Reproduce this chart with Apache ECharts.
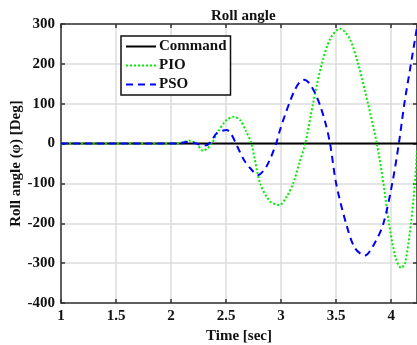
<!DOCTYPE html>
<html>
<head>
<meta charset="utf-8">
<script src="https://cdn.jsdelivr.net/npm/echarts@6/dist/echarts.min.js"></script>
<style>
    html, body {margin: 0; padding: 0; background: #fff;}
    #roll {width: 417px; height: 345px;}
</style>
</head>
<body>
<div id="roll"></div>
<script>
// command is flat at zero
var cmdTime = [1, 4.235];
var cmdRoll = [0, 0];

// PIO response
var pioTime = [1, 2.05, 2.1, 2.17, 2.23, 2.29, 2.33, 2.37, 2.42, 2.5, 2.57, 2.63, 2.68, 2.73, 2.81, 2.9, 2.985, 3.05, 3.11, 3.17, 3.22, 3.29, 3.37, 3.45, 3.536, 3.62, 3.70, 3.79, 3.87, 3.93, 3.98, 4.04, 4.09, 4.127, 4.18, 4.216, 4.235];
var pioRoll = [0, 0, 3, 7, 0, -18, -12, 0, 26, 58, 67, 58, 32, 0, -100, -145, -154, -133, -100, -45, 0, 100, 200, 265, 288, 265, 200, 100, 0, -100, -200, -285, -312, -300, -200, -100, -16];

// PSO response
var psoTime = [1, 2.08, 2.13, 2.2, 2.27, 2.32, 2.37, 2.415, 2.506, 2.55, 2.59, 2.66, 2.72, 2.79, 2.87, 2.955, 2.99, 3.036, 3.08, 3.12, 3.17, 3.21, 3.26, 3.31, 3.355, 3.4, 3.445, 3.5, 3.59, 3.67, 3.76, 3.85, 3.93, 4.01, 4.07, 4.12, 4.18, 4.235];
var psoRoll = [0, 0, 4, 2, -3, -4, 8, 26, 34, 22, 0, -40, -62, -79, -56, 0, 34, 72, 105, 132, 155, 160, 150, 126, 95, 55, 0, -100, -200, -262, -281, -250, -200, -100, 0, 100, 200, 292];

var xTicks = {min: 1, max: 4.235, interval: 0.5};
var yTicks = {min: -400, max: 300, interval: 100};

function pairs(xs, ys) {
    var out = [];
    for (var i = 0; i < xs.length; i++) {
        out.push([xs[i], ys[i]]);
    }
    return out;
}

var font = 'Liberation Serif';
var axisColor = '#333';

var myChart = echarts.init(document.getElementById('roll'));
var option = {
    animation: false,
    title: {
        text: 'Roll angle',
        left: 206,
        top: 4,
        textStyle: {fontFamily: font, fontWeight: 'bold', fontSize: 15, color: '#111'}
    },
    legend: {
        orient: 'vertical',
        left: 121,
        top: 36,
        padding: [3, 4, 3, 4],
        itemWidth: 30,
        itemHeight: 14,
        itemGap: 4,
        backgroundColor: '#fff',
        borderColor: '#111',
        borderWidth: 1.5,
        borderRadius: 0,
        itemStyle: {opacity: 0},
        textStyle: {fontFamily: font, fontWeight: 'bold', fontSize: 15, color: '#111', padding: [0, 0, 0, -2]},
        data: ['Command', 'PIO', 'PSO']
    },
    grid: {
        left: 61,
        top: 24,
        right: 0,
        bottom: 42,
        outerBoundsMode: 'none'
    },
    xAxis: [{
        type: 'value',
        min: xTicks.min,
        max: xTicks.max,
        interval: xTicks.interval,
        name: 'Time [sec]',
        nameLocation: 'middle',
        nameGap: 22,
        nameTextStyle: {fontFamily: font, fontWeight: 'bold', fontSize: 15, color: '#111'},
        axisLine: {onZero: false, lineStyle: {color: axisColor, width: 1.5}},
        axisTick: {inside: true, length: 4, lineStyle: {color: axisColor, width: 1.5}},
        axisLabel: {fontFamily: font, fontWeight: 'bold', fontSize: 15, color: '#111', margin: 6, showMaxLabel: false},
        splitLine: {lineStyle: {color: '#dcdcdc', width: 1.5}}
    }, {
        type: 'value',
        position: 'top',
        min: xTicks.min,
        max: xTicks.max,
        interval: xTicks.interval,
        axisLine: {onZero: false, lineStyle: {color: axisColor, width: 1.5}},
        axisTick: {inside: true, length: 4, lineStyle: {color: axisColor, width: 1.5}},
        axisLabel: {show: false},
        splitLine: {show: false}
    }],
    yAxis: [{
        type: 'value',
        min: yTicks.min,
        max: yTicks.max,
        interval: yTicks.interval,
        name: 'Roll angle (φ) [Deg]',
        nameLocation: 'middle',
        nameGap: 37,
        nameMoveOverlap: false,
        nameTextStyle: {fontFamily: font, fontWeight: 'bold', fontSize: 15, color: '#111'},
        axisLine: {show: true, onZero: false, lineStyle: {color: axisColor, width: 1.5}},
        axisTick: {show: true, inside: true, length: 4, lineStyle: {color: axisColor, width: 1.5}},
        axisLabel: {fontFamily: font, fontWeight: 'bold', fontSize: 15, color: '#111', margin: 6},
        splitLine: {lineStyle: {color: '#dcdcdc', width: 1.5}}
    }, {
        type: 'value',
        position: 'right',
        min: yTicks.min,
        max: yTicks.max,
        interval: yTicks.interval,
        axisLine: {show: true, onZero: false, lineStyle: {color: axisColor, width: 1.5}},
        axisTick: {show: true, inside: true, length: 4, lineStyle: {color: axisColor, width: 1.5}},
        axisLabel: {show: false},
        splitLine: {show: false}
    }],
    series: [{
        name: 'Command',
        type: 'line',
        symbol: 'none',
        data: pairs(cmdTime, cmdRoll),
        lineStyle: {color: '#000', width: 2},
        itemStyle: {color: '#000'},
        z: 2
    }, {
        name: 'PIO',
        type: 'line',
        symbol: 'none',
        smooth: 0.3,
        data: pairs(pioTime, pioRoll),
        lineStyle: {color: '#00ee00', width: 2, type: [2, 2]},
        itemStyle: {color: '#00ee00'},
        z: 3
    }, {
        name: 'PSO',
        type: 'line',
        symbol: 'none',
        smooth: 0.3,
        data: pairs(psoTime, psoRoll),
        lineStyle: {color: '#0000ff', width: 2, type: [7, 5]},
        itemStyle: {color: '#0000ff'},
        z: 4
    }]
};
myChart.setOption(option);
</script>
</body>
</html>
